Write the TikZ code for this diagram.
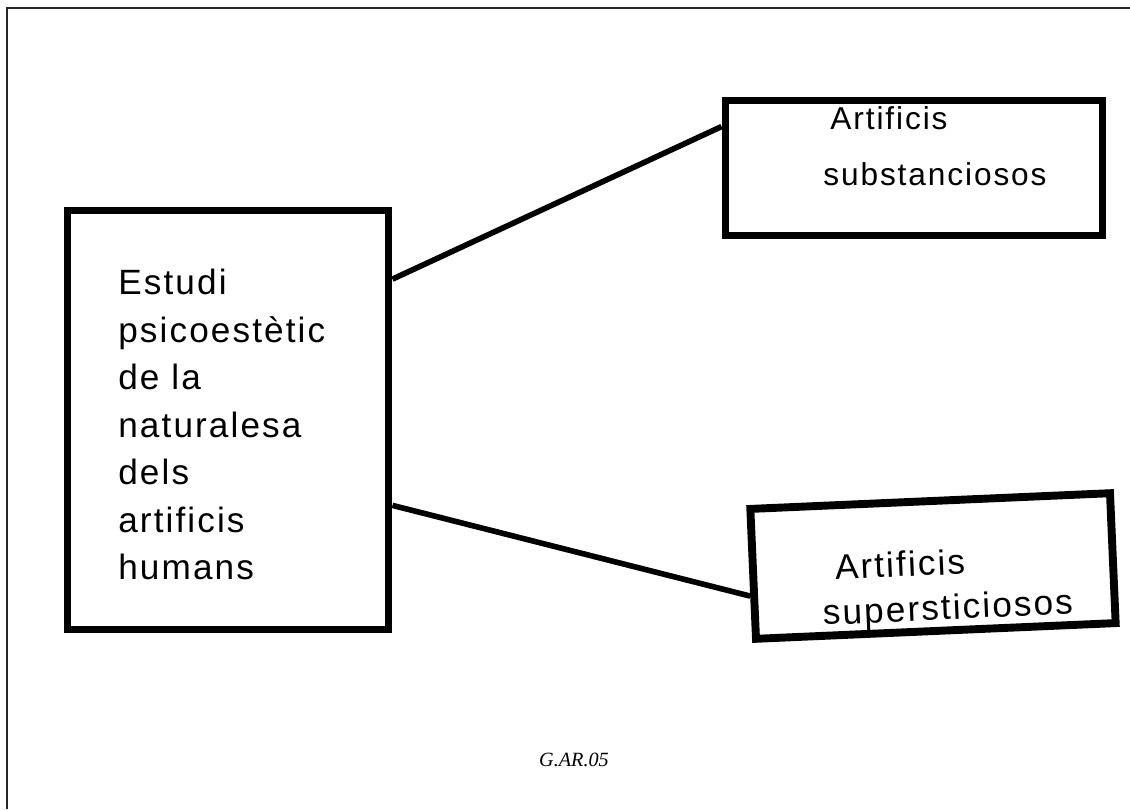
\documentclass[tikz,border=0pt]{standalone}
\usepackage{fontspec}
\setmainfont{Liberation Serif}
\newfontfamily\handfont[LetterSpace=6]{Liberation Sans}
\usetikzlibrary{calc}

\begin{document}
\begin{tikzpicture}[
  x=0.2mm, y=-0.2mm,
  font=\handfont\fontsize{20}{27}\selectfont,
  box/.style={rectangle, draw, line width=4.5pt, inner sep=0pt},
  words/.style={align=left, inner sep=0pt},
  link/.style={line width=3.2pt},
  tag/.style={font=\rmfamily\itshape\fontsize{11.5}{13}\selectfont}
]
\useasboundingbox (0,0) rectangle (1130,809);
% page frame (only left and top edges are seen)
\draw[line width=0.9pt, black!85] (7,809) -- (7,8) -- (1130,8);
% boxes
\node[box, minimum width=6.42cm, minimum height=8.38cm] (study) at (228,420) {};
\node[box, minimum width=7.54cm, minimum height=2.7cm] (subst) at (914,168) {};
\node[box, minimum width=7.2cm, minimum height=2.6cm, rotate=2.5] (super) at (933,566) {};
% texts
\node[words, anchor=north west] (studytext) at (118,269)
  {Estudi\\psicoestètic\\de la\\naturalesa\\dels\\artificis\\humans};
\node[words, anchor=north west, font=\handfont\fontsize{18}{32}\selectfont] (substtext) at (823,106)
  {\hspace*{4pt}Artificis\\substanciosos};
\node[words, rotate=2.5, font=\handfont\fontsize{20}{25.5}\selectfont] (supertext) at (947,588)
  {\hspace*{8pt}Artificis\\supersticiosos};
% connectors
\draw[link] ($(study.north east)!0.17!(study.south east)$) -- ($(subst.north west)!0.21!(subst.south west)$);
\draw[link] ($(study.north east)!0.70!(study.south east)$) -- ($(super.north west)!0.66!(super.south west)$);
% figure code
\node[tag] (code) at (574,760) {G.AR.05};
\end{tikzpicture}
\end{document}
